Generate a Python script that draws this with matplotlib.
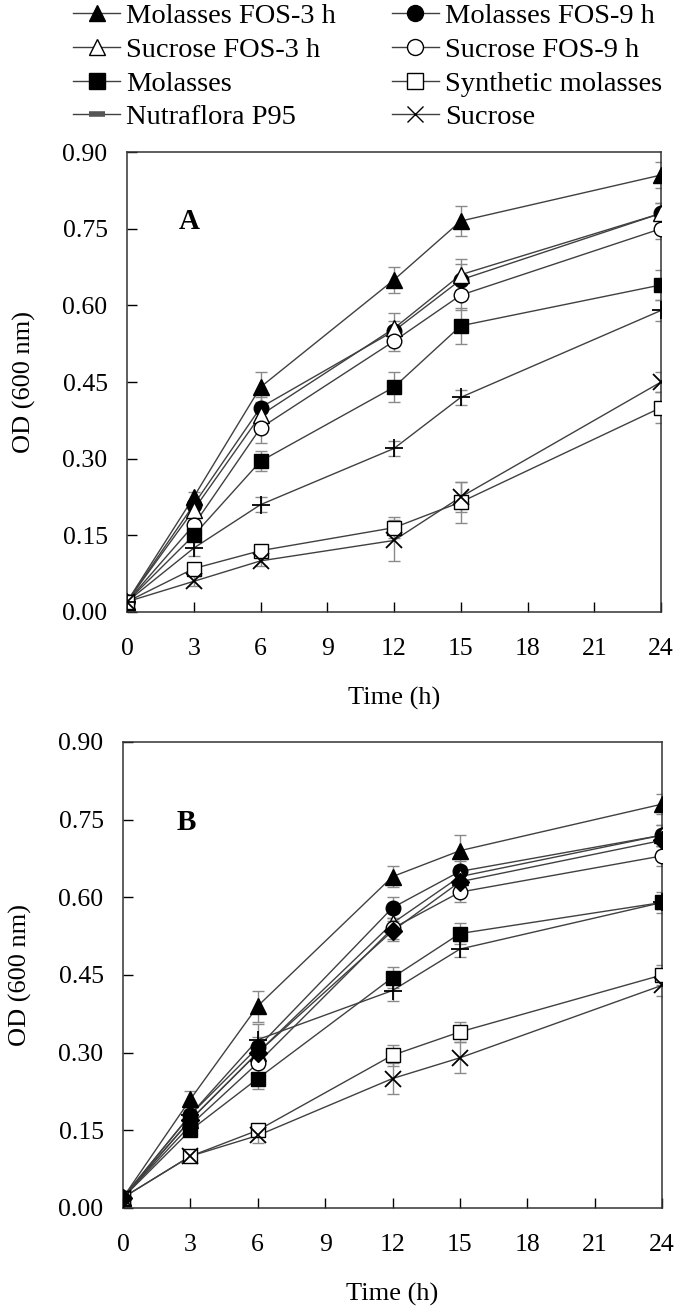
import numpy as np
import matplotlib
matplotlib.use("Agg")
import matplotlib.pyplot as plt
from matplotlib.lines import Line2D

plt.rcParams['font.family'] = ['Liberation Serif', 'DejaVu Serif']

hours = [0, 3, 6, 12, 15, 24]
labels = ["Molasses FOS-3 h", "Molasses FOS-9 h", "Sucrose FOS-3 h", "Sucrose FOS-9 h",
          "Molasses", "Synthetic molasses", "Nutraflora P95", "Sucrose"]

# panel A
a_mol3 = [0.02, 0.225, 0.44, 0.65, 0.765, 0.855]
a_mol9 = [0.02, 0.21, 0.40, 0.55, 0.65, 0.78]
a_suc3 = [0.02, 0.20, 0.385, 0.555, 0.66, 0.78]
a_suc9 = [0.02, 0.17, 0.36, 0.53, 0.62, 0.75]
a_mol = [0.02, 0.15, 0.295, 0.44, 0.56, 0.64]
a_syn = [0.02, 0.085, 0.12, 0.165, 0.215, 0.40]
a_nut = [0.02, 0.125, 0.21, 0.32, 0.42, 0.59]
a_suc = [0.02, 0.06, 0.10, 0.14, 0.225, 0.45]
a_err_mol3 = [0, 0.01, 0.03, 0.025, 0.03, 0.025]
a_err_mol9 = [0, 0.01, 0.02, 0.02, 0.03, 0.02]
a_err_suc3 = [0, 0.01, 0.02, 0.03, 0.03, 0.02]
a_err_suc9 = [0, 0.01, 0.03, 0.02, 0.03, 0.02]
a_err_mol = [0, 0.01, 0.02, 0.03, 0.035, 0.03]
a_err_syn = [0, 0.01, 0.01, 0.02, 0.04, 0.03]
a_err_nut = [0, 0.015, 0.015, 0.015, 0.015, 0.02]
a_err_suc = [0, 0.01, 0.01, 0.04, 0.03, 0.02]

# panel B
b_mol3 = [0.02, 0.21, 0.39, 0.64, 0.69, 0.78]
b_mol9 = [0.02, 0.18, 0.31, 0.58, 0.65, 0.72]
b_suc3 = [0.02, 0.17, 0.30, 0.55, 0.64, 0.72]
b_suc9 = [0.02, 0.16, 0.28, 0.54, 0.61, 0.68]
b_mol = [0.02, 0.15, 0.25, 0.445, 0.53, 0.59]
b_syn = [0.02, 0.10, 0.15, 0.295, 0.34, 0.45]
b_nut = [0.02, 0.18, 0.325, 0.42, 0.50, 0.59]
b_suc = [0.02, 0.10, 0.14, 0.25, 0.29, 0.43]
b_extra = [0.02, 0.17, 0.30, 0.535, 0.63, 0.71]
b_err_mol3 = [0, 0.015, 0.03, 0.02, 0.03, 0.02]
b_err_mol9 = [0, 0.01, 0.02, 0.02, 0.02, 0.02]
b_err_suc3 = [0, 0.01, 0.02, 0.02, 0.02, 0.02]
b_err_suc9 = [0, 0.01, 0.02, 0.02, 0.02, 0.02]
b_err_mol = [0, 0.01, 0.02, 0.02, 0.02, 0.02]
b_err_syn = [0, 0.01, 0.01, 0.02, 0.02, 0.02]
b_err_nut = [0, 0.015, 0.03, 0.02, 0.015, 0.012]
b_err_suc = [0, 0.01, 0.015, 0.03, 0.03, 0.02]
b_err_extra = [0, 0.01, 0.02, 0.02, 0.02, 0.02]

# marker, face, size
styles = [("^", "black", 11), ("o", "black", 10.5), ("^", "white", 11), ("o", "white", 10.5),
          ("s", "black", 10.5), ("s", "white", 10.5), ("+", "black", 13), ("x", "black", 11)]

line_col = "#404040"
err_col = "#8a8a8a"

fig = plt.figure(figsize=(6.85, 13.13), dpi=100)
axA = fig.add_axes([0.1854, 0.5339, 0.7796, 0.3503])
axB = fig.add_axes([0.1796, 0.0800, 0.7869, 0.3549])

def draw(ax, series, errs, tag):
    for (m, fc, ms), y, e in zip(styles, series, errs):
        ax.errorbar(hours, y, yerr=e, fmt="none", ecolor=err_col, elinewidth=1,
                    capsize=4, capthick=1, zorder=2)
        ax.plot(hours, y, color=line_col, lw=1, zorder=3)
        ax.plot(hours, y, ls="none", marker=m, ms=ms, mfc=fc, mec="black",
                mew=1.3 if m in "+x" else 1.0, zorder=4)
    ax.set_xlim(0, 24)
    ax.set_ylim(0, 0.9)
    ax.set_xticks(np.arange(0, 25, 3))
    ax.set_yticks(np.arange(0, 0.91, 0.15))
    ax.set_yticklabels(["%.2f" % v for v in np.arange(0, 0.91, 0.15)])
    ax.tick_params(direction="in", length=7, width=1, labelsize=18.5, pad=14)
    ax.tick_params(axis="x", pad=19)
    for s in ax.spines.values():
        s.set_linewidth(1.1)
        s.set_color("#333333")
    ax.set_xlabel("Time (h)", fontsize=19, labelpad=19)
    ax.set_ylabel("OD (600 nm)", fontsize=19, labelpad=19)
    ax.text(2.8, 0.765, tag, fontsize=21, fontweight="bold", ha="center", va="center")
    return ax

draw(axA, [a_mol3, a_mol9, a_suc3, a_suc9, a_mol, a_syn, a_nut, a_suc],
     [a_err_mol3, a_err_mol9, a_err_suc3, a_err_suc9, a_err_mol, a_err_syn, a_err_nut, a_err_suc], "A")

draw(axB, [b_mol3, b_mol9, b_suc3, b_suc9, b_mol, b_syn, b_nut, b_suc],
     [b_err_mol3, b_err_mol9, b_err_suc3, b_err_suc9, b_err_mol, b_err_syn, b_err_nut, b_err_suc], "B")
axB.texts[-1].set_position((2.8, 0.745))
# extra diamond series in panel B
axB.errorbar(hours, b_extra, yerr=b_err_extra, fmt="none", ecolor=err_col, elinewidth=1, capsize=4, zorder=2)
axB.plot(hours, b_extra, color=line_col, lw=1, zorder=3)
axB.plot(hours, b_extra, ls="none", marker="D", ms=9, mfc="black", mec="black", zorder=4.5)

handles = []
for (m, fc, ms), lab in zip(styles, labels):
    if lab == "Nutraflora P95":
        h = Line2D([], [], color=line_col, lw=1, marker="_", ms=11, mew=4, mec="#555555")
    else:
        h = Line2D([], [], color=line_col, lw=1, marker=m, ms=ms + 1, mfc=fc, mec="black")
    handles.append(h)
order = [0, 2, 4, 6, 1, 3, 5, 7]
fig.legend([handles[i] for i in order], [labels[i] for i in order], ncol=2,
           loc="upper left", bbox_to_anchor=(0.09, 1.006), frameon=False,
           fontsize=20.5, handlelength=1.65, handletextpad=0.22, columnspacing=1.95,
           labelspacing=0.27, borderaxespad=0)

fig.savefig("out.png", dpi=100)
